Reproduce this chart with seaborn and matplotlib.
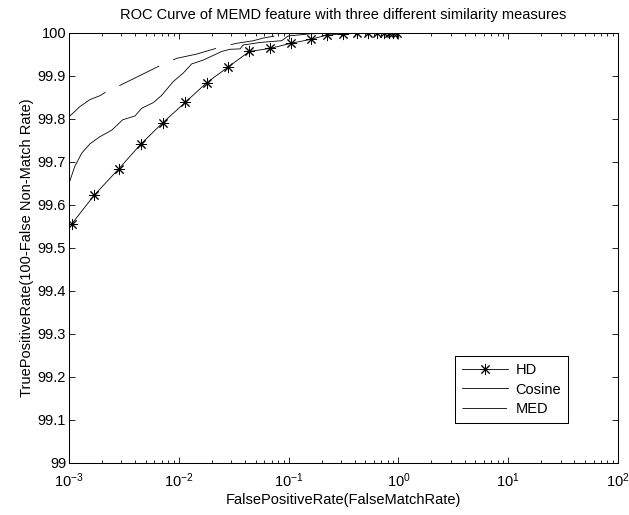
import matplotlib
matplotlib.use("Agg")
import matplotlib.pyplot as plt
import matplotlib.ticker as mticker
import seaborn as sns

# Data (FPR on log scale, TPR in percent)
hd_fpr = [1.06e-3, 1.70e-3, 2.84e-3, 4.53e-3, 7.13e-3, 0.0115, 0.0179, 0.0282,
          0.0439, 0.0677, 0.105, 0.159, 0.222, 0.311, 0.417, 0.532, 0.634,
          0.744, 0.827, 0.899, 0.965]
hd_tpr = [99.556, 99.623, 99.684, 99.742, 99.791, 99.839, 99.884, 99.921,
          99.957, 99.964, 99.976, 99.985, 99.995, 99.998, 100, 100, 100,
          100, 100, 100, 100]

cos_fpr = [1.0e-3, 1.13e-3, 1.31e-3, 1.55e-3, 1.89e-3, 2.45e-3, 3.08e-3, 3.99e-3,
           4.59e-3, 5.86e-3, 6.98e-3, 8.91e-3, 0.0110, 0.0131, 0.0167, 0.0246,
           0.0292, 0.0361, 0.0386, 0.0550, 0.0865, 0.0993, 0.157, 0.3, 1.0]
cos_tpr = [99.650, 99.690, 99.721, 99.742, 99.758, 99.774, 99.798, 99.807,
           99.825, 99.838, 99.855, 99.887, 99.907, 99.928, 99.937, 99.957,
           99.962, 99.963, 99.972, 99.978, 99.982, 99.993, 99.998, 100, 100]

med_fpr = [1.0e-3, 1.26e-3, 1.55e-3, 1.91e-3, 2.28e-3, 3.02e-3, 6.98e-3, 9.57e-3,
           0.0146, 0.0246, 0.0337, 0.0479, 0.0585, 0.096, 0.2, 1.0]
med_tpr = [99.805, 99.829, 99.845, 99.854, 99.866, 99.880, 99.926, 99.941,
           99.951, 99.968, 99.976, 99.982, 99.988, 99.998, 100, 100]

y_ticks = [99, 99.1, 99.2, 99.3, 99.4, 99.5, 99.6, 99.7, 99.8, 99.9, 100]

plt.rcParams['font.family'] = ['Liberation Sans', 'DejaVu Sans']
plt.rcParams['font.size'] = 10.5
plt.rcParams['mathtext.fontset'] = 'custom'
plt.rcParams['mathtext.rm'] = 'Liberation Sans'
plt.rcParams['lines.scale_dashes'] = False

fig = plt.figure(figsize=(6.29, 5.15), dpi=100)
ax = fig.add_axes([0.1097, 0.101, 0.8728, 0.835])

sns.lineplot(x=hd_fpr, y=hd_tpr, ax=ax, color='k', lw=0.6, marker=(8, 2, 0),
             markersize=8, markeredgecolor='k', markeredgewidth=0.7,
             estimator=None, sort=False, label='HD')
sns.lineplot(x=cos_fpr, y=cos_tpr, ax=ax, color='k', lw=0.6,
             estimator=None, sort=False, label='Cosine')
sns.lineplot(x=med_fpr, y=med_tpr, ax=ax, color='k', lw=0.6,
             linestyle=(0, (32, 11)), estimator=None, sort=False, label='MED')

ax.set_xscale('log')
ax.set_xlim(1e-3, 1e2)
ax.set_ylim(99, 100)
ax.set_yticks(y_ticks)
ax.yaxis.set_major_formatter(mticker.FormatStrFormatter('%g'))
ax.xaxis.set_major_locator(mticker.LogLocator(base=10, numticks=10))
ax.xaxis.set_minor_locator(mticker.LogLocator(base=10, subs=range(2, 10), numticks=20))
ax.tick_params(which='both', direction='in', top=True, right=True, width=0.6)
ax.tick_params(which='major', length=4)
ax.tick_params(which='minor', length=2.5)
ax.tick_params(axis='x', which='major', pad=6)
ax.tick_params(axis='y', which='major', pad=2)
for s in ax.spines.values():
    s.set_linewidth(0.75)

ax.set_title('ROC Curve of MEMD feature with three different similarity measures',
             fontsize=10.5, pad=10)
ax.set_xlabel('FalsePositiveRate(FalseMatchRate)', labelpad=2)
ax.set_ylabel('TruePositiveRate(100-False Non-Match Rate)', labelpad=3)

leg = ax.legend(loc='lower left', bbox_to_anchor=(0.703, 0.093), borderaxespad=0,
                fancybox=False, shadow=False, edgecolor='k', framealpha=1,
                handlelength=3.2, labelspacing=0.4, borderpad=0.45, handletextpad=0.5)
leg.get_frame().set_linewidth(0.75)

fig.savefig('out.png', dpi=100)
